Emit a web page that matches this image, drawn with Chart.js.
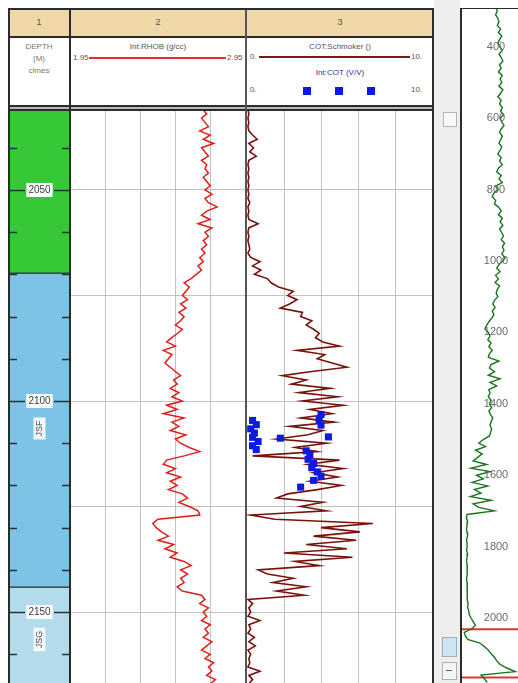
<!DOCTYPE html>
<html>
<head>
<meta charset="utf-8">
<script src="https://cdn.jsdelivr.net/npm/chart.js@4.4.1/dist/chart.umd.min.js"></script>
<style>
  body { margin:0; width:518px; height:683px; overflow:hidden; background:#fff; position:relative;
         font-family:"Liberation Sans", Arial, sans-serif; }
  .ln { position:absolute; background:#2b2b2b; }
  .box { position:absolute; }
  .txt { position:absolute; font-size:8px; line-height:10px; color:#555; white-space:nowrap; }
  .c { transform:translateX(-50%); }
  .sq { position:absolute; width:8px; height:8px; background:#0b1be0; top:87px; }
  canvas { position:absolute; }
</style>
</head>
<body>

<!-- scroll column + overview panel frame -->
<div class="box" style="left:434px;top:0;width:26px;height:683px;background:#eeeeee"></div>
<div class="box" style="left:443px;top:112px;width:12px;height:13px;background:#f8f8f8;border:1px solid #b4b4b4"></div>
<div class="box" style="left:442px;top:637px;width:13px;height:18px;background:#cfe4f2;border:1px solid #8fb0c8"></div>
<div class="box" style="left:442px;top:662px;width:13px;height:16px;background:#f5f5f5;border:1px solid #b0b0b0"></div>
<div class="box" style="left:446px;top:670px;width:6px;height:1px;background:#666"></div>
<div class="ln" style="left:460px;top:8px;width:2px;height:675px"></div>
<div class="ln" style="left:460px;top:8px;width:58px;height:1px"></div>

<!-- main log frame -->
<div class="box" style="left:10px;top:10px;width:422px;height:26px;background:#f0d7a8"></div>
<div class="ln" style="left:8px;top:8px;width:426px;height:2px"></div>
<div class="ln" style="left:8px;top:8px;width:2px;height:675px"></div>
<div class="ln" style="left:432px;top:8px;width:2px;height:675px"></div>
<div class="ln" style="left:10px;top:36px;width:422px;height:2px"></div>
<div class="ln" style="left:10px;top:105px;width:422px;height:2px"></div>
<div class="box" style="left:10px;top:107px;width:422px;height:2px;background:#b9b9b9"></div>
<div class="ln" style="left:10px;top:109px;width:422px;height:2px"></div>
<div class="ln" style="left:69px;top:10px;width:2px;height:673px"></div>
<div class="ln" style="left:245px;top:10px;width:2px;height:673px;background:#555"></div>

<!-- track numbers -->
<div class="txt c" style="left:39px;top:17px;font-size:9px">1</div>
<div class="txt c" style="left:158px;top:17px;font-size:9px">2</div>
<div class="txt c" style="left:340px;top:17px;font-size:9px">3</div>

<!-- curve headers -->
<div class="txt c" style="left:39px;top:42px;color:#777">DEPTH</div>
<div class="txt c" style="left:39px;top:54px;color:#777">(M)</div>
<div class="txt c" style="left:39px;top:66px;color:#777">cimes</div>

<div class="txt c" style="left:158px;top:42px">Int:RHOB (g/cc)</div>
<div class="txt" style="left:73px;top:53px">1.95</div>
<div class="box" style="left:89px;top:57px;width:137px;height:2px;background:#e0302c"></div>
<div class="txt" style="left:227px;top:53px">2.95</div>

<div class="txt c" style="left:340px;top:42px">COT:Schmoker ()</div>
<div class="txt" style="left:250px;top:52px">0.</div>
<div class="box" style="left:259px;top:56px;width:151px;height:2px;background:#7a1a10"></div>
<div class="txt" style="left:411px;top:52px">10.</div>
<div class="txt c" style="left:340px;top:68px;color:#33339a">Int:COT (V/V)</div>
<div class="txt" style="left:250px;top:85px">0.</div>
<div class="sq" style="left:303px"></div>
<div class="sq" style="left:335px"></div>
<div class="sq" style="left:367px"></div>
<div class="txt" style="left:411px;top:85px">10.</div>

<canvas id="t1" width="59" height="572" style="left:10px;top:111px"></canvas>
<canvas id="t2" width="174" height="572" style="left:71px;top:111px"></canvas>
<canvas id="t3" width="185" height="572" style="left:247px;top:111px"></canvas>
<canvas id="ov" width="56" height="674" style="left:462px;top:9px"></canvas>

<script>
// depth window of the main view (m)
const viewTop = 2031.3;
const viewBase = 2166.8;

// depth track ticks and labels
const depthTicks = [2040, 2050, 2060, 2070, 2080, 2090, 2100, 2110, 2120, 2130, 2140, 2150, 2160];
const depthLabels = [2050, 2100, 2150];
const depthGrid = [2050, 2075, 2100, 2125, 2150];

// zones in track 1
const zoneNames = ['', 'JSF', 'JSG'];
const zoneTop = [2000, 2069.7, 2144.1];
const zoneBase = [2069.7, 2144.1, 2200];
const zoneColors = ['#36c836', '#7dc3e6', '#b2dbec'];
const zoneLabelDepth = [null, 2106.5, 2156.5];

// Int:RHOB (g/cc), one sample per metre from 2031 m
const rhobStart = 2031;
const rhob = [
    2.71, 2.73, 2.70, 2.72, 2.74,  2.69, 2.75, 2.71, 2.77, 2.70,
    2.72, 2.74, 2.70, 2.73, 2.72,  2.74, 2.71, 2.73, 2.75, 2.72,
    2.76, 2.72, 2.74, 2.79, 2.73,  2.70, 2.75, 2.68, 2.76, 2.72,
    2.74, 2.71, 2.73, 2.70, 2.72,  2.69, 2.71, 2.68, 2.70, 2.67,
    2.64, 2.60, 2.63, 2.61, 2.59,  2.62, 2.58, 2.61, 2.57, 2.60,
    2.58, 2.55, 2.59, 2.56, 2.53,  2.50, 2.55, 2.48, 2.53, 2.51,
    2.49, 2.52, 2.55, 2.58, 2.54,  2.56, 2.52, 2.57, 2.53, 2.59,
    2.50, 2.56, 2.48, 2.60, 2.53,  2.57, 2.52, 2.61, 2.55, 2.58,
    2.63, 2.69, 2.60, 2.50, 2.48,  2.55, 2.50, 2.58, 2.52, 2.56,
    2.51, 2.59, 2.62, 2.57, 2.63,  2.68, 2.69, 2.45, 2.42, 2.44,
    2.47, 2.51, 2.45, 2.54, 2.49,  2.56, 2.52, 2.60, 2.64, 2.58,
    2.62, 2.58, 2.60, 2.56, 2.59,  2.70, 2.72, 2.69, 2.74, 2.71,
    2.73, 2.70, 2.75, 2.72, 2.74,  2.71, 2.76, 2.73, 2.70, 2.75,
    2.72, 2.77, 2.74, 2.76, 2.73, 2.78, 2.75
];
const rhobGrid = [2.15, 2.35, 2.55, 2.75];

// COT:Schmoker, one sample per metre from 2031 m
const cotStart = 2031;
const cot = [
    0.05, 0.1, 0.05, 0.1, 0.05,  0.1, 0.3, 0.55, 0.1, 0.35,
    0.15, 0.5, 0.1, 0.05, 0.1,   0.05, 0.1, 0.05, 0.1, 0.05,
    0.1, 0.05, 0.15, 0.05, 0.1,  0.05, 0.1, 0.6, 0.1, 0.05,
    0.1, 0.05, 0.1, 0.15, 0.05,  0.2, 0.7, 0.3, 0.75, 0.4,
    1.1, 1.3, 1.7, 2.5, 2.2,     2.7, 2.3, 1.8, 3.0, 2.9,
    3.5, 3.2, 3.6, 3.9, 3.7,     4.1, 5.0, 2.7, 4.2, 3.8,
    4.6, 5.4, 3.5, 1.9, 3.2,     2.4, 4.5, 2.8, 4.9, 3.0,
    5.2, 3.4, 4.6, 2.9, 4.7,     2.3, 4.1, 3.3, 1.6, 4.3,
    2.6, 3.8, 0.3, 5.0, 3.3,     5.2, 3.6, 4.9, 3.4, 5.1,
    3.8, 2.2, 1.6, 4.1, 2.9,     4.3, 0.2, 1.5, 6.8, 4.0,
    6.1, 3.6, 5.9, 3.2, 5.4,     2.0, 5.7, 2.6, 3.9, 0.6,
    1.1, 2.5, 1.4, 3.2, 1.6,     3.1, 0.05, 0.3, 0.1, 0.2,
    0.05, 0.7, 0.1, 0.2, 0.05,   0.4, 0.1, 0.45, 0.05, 0.2,
    0.1, 0.15, 0.05, 0.7, 0.1, 0.3, 0.1
];
const cotGrid = [2, 4, 6, 8];

// Int:COT core points
const intCotDepth = [2103.2, 2104.4, 2105.7, 2104.6, 2105.6, 2106.6, 2107.6, 2108.6, 2109.6, 2110.6, 2111.5,
                     2108.8, 2108.5, 2111.8, 2112.8, 2113.8, 2114.8, 2115.8, 2116.8, 2117.8, 2118.8, 2120.4];
const intCot = [4.0, 3.9, 4.0, 0.3, 0.5, 0.2, 0.4, 0.3, 0.6, 0.3, 0.5,
                1.8, 4.4, 3.2, 3.4, 3.3, 3.6, 3.5, 3.8, 4.0, 3.6, 2.9];

// overview curve (right panel), one sample per 10 m from 290 m
const ovTop = 294;
const ovBase = 2182;
const grStart = 290;
const gr = [
    61, 63, 60, 64,
    66, 63, 69, 65, 71, 67, 64,
    68, 72, 66, 70, 73, 67,
    70, 65, 72, 68, 71, 66, 73, 69, 64, 70, 67, 72,
    69, 74, 68, 71, 75, 70, 67, 72, 69,
    66, 71, 68, 64, 70, 67, 72, 65,
    62, 70, 66, 72, 60,
    64, 57, 54, 60, 58, 66,
    70, 65, 72, 68, 73, 67, 71,
    74, 70, 76, 72, 75, 71, 77, 73,
    66, 62, 68, 60, 65, 59, 67, 63, 61, 64,
    58, 55, 59, 54, 57, 53,
    48, 44, 41, 47,
    50, 46, 52, 48, 54, 49,
    47, 66, 52, 49, 58, 47, 68, 50, 62, 48,
    50, 47, 52, 49, 53, 48, 51,
    55, 52, 50, 53, 51, 49, 38,
    30, 42, 24, 36, 28,
    20, 44, 16, 50, 26, 38,
    18, 46, 22, 34, 15, 52, 20, 30, 58,
    9, 8, 10, 9, 8, 9, 10, 8, 9, 9, 8, 10, 9, 8, 9, 9, 10, 9, 8, 9, 9, 10, 9, 9, 10, 11, 10, 12, 13,
    16, 20, 24, 18,
    4, 6, 10,
    32, 40, 47,
    52, 58, 62,
    68, 80, 95,
    34, 40, 45
];
const ovTicks = [400, 600, 800, 1000, 1200, 1400, 1600, 1800, 2000];

Chart.defaults.font.family = '"Liberation Sans", Arial, sans-serif';

function series(start, step, values) {
    return values.map((v, i) => ({ x: v, y: start + i * step }));
}

function depthAxis(min, max, gridValues) {
    return {
        type: 'linear', reverse: true, min: min, max: max,
        ticks: { display: false },
        border: { display: false },
        grid: { display: gridValues.length > 0, color: '#c2c2c2', lineWidth: 1, drawTicks: false },
        afterBuildTicks: s => { s.ticks = gridValues.map(v => ({ value: v })); }
    };
}

function valueAxis(min, max, gridValues) {
    return {
        type: 'linear', min: min, max: max,
        ticks: { display: false },
        border: { display: false },
        grid: { display: gridValues.length > 0, color: '#c2c2c2', lineWidth: 1, drawTicks: false },
        afterBuildTicks: s => { s.ticks = gridValues.map(v => ({ value: v })); }
    };
}

const base = {
    responsive: false,
    animation: false,
    events: [],
    layout: { padding: 0, autoPadding: false },
    plugins: { legend: { display: false }, tooltip: { enabled: false } }
};

// ticks, depth labels and zone names in track 1
const depthMarks = {
    id: 'depthMarks',
    afterDatasetsDraw(chart) {
        const { ctx, chartArea: a, scales: { y } } = chart;
        const cx = (a.left + a.right) / 2;
        ctx.save();
        ctx.strokeStyle = '#26323a';
        ctx.lineWidth = 1.5;
        depthTicks.forEach(d => {
            const py = Math.round(y.getPixelForValue(d)) + 0.5;
            const len = depthLabels.includes(d) ? 15 : 7;
            ctx.beginPath();
            ctx.moveTo(a.left, py); ctx.lineTo(a.left + len, py);
            ctx.moveTo(a.right - len, py); ctx.lineTo(a.right, py);
            ctx.stroke();
        });
        ctx.font = '10px "Liberation Sans", Arial';
        ctx.textAlign = 'center';
        ctx.textBaseline = 'middle';
        depthLabels.forEach(d => {
            const py = y.getPixelForValue(d);
            const w = ctx.measureText(String(d)).width + 4;
            ctx.fillStyle = '#fff';
            ctx.fillRect(cx - w / 2, py - 7, w, 14);
            ctx.fillStyle = '#3a3a3a';
            ctx.fillText(String(d), cx, py + 0.5);
        });
        ctx.font = '9px "Liberation Sans", Arial';
        zoneNames.forEach((name, i) => {
            if (!name) return;
            const py = y.getPixelForValue(zoneLabelDepth[i]);
            const w = ctx.measureText(name).width + 6;
            ctx.save();
            ctx.translate(cx, py);
            ctx.rotate(-Math.PI / 2);
            ctx.fillStyle = '#f4f8fa';
            ctx.fillRect(-w / 2, -6, w, 12);
            ctx.fillStyle = '#4a4a4a';
            ctx.fillText(name, 0, 0.5);
            ctx.restore();
        });
        ctx.restore();
    }
};

// depth labels drawn inside the overview panel
const overviewLabels = {
    id: 'overviewLabels',
    afterDatasetsDraw(chart) {
        const { ctx, chartArea: a, scales: { y } } = chart;
        ctx.save();
        ctx.font = '11px "Liberation Sans", Arial';
        ctx.fillStyle = '#6a6a6a';
        ctx.textAlign = 'center';
        ctx.textBaseline = 'middle';
        ovTicks.forEach(d => ctx.fillText(String(d), a.left + 34, y.getPixelForValue(d)));
        ctx.restore();
    }
};

window.onload = function() {
    // Track 1: zones
    new Chart(document.getElementById('t1'), {
        type: 'bar',
        data: {
            labels: ['zone'],
            datasets: zoneTop.map((t, i) => ({
                data: [[t, zoneBase[i]]],
                backgroundColor: zoneColors[i],
                borderColor: '#26323a',
                borderWidth: { top: 1, bottom: 1, left: 0, right: 0 },
                borderSkipped: false,
                grouped: false,
                barPercentage: 1,
                categoryPercentage: 1
            }))
        },
        options: {
            ...base,
            scales: { x: { display: false }, y: depthAxis(viewTop, viewBase, []) }
        },
        plugins: [depthMarks]
    });

    // Track 2: RHOB
    new Chart(document.getElementById('t2'), {
        type: 'scatter',
        data: {
            datasets: [{
                data: series(rhobStart, 1, rhob),
                showLine: true,
                borderColor: '#e01f1b',
                borderWidth: 1.5,
                pointRadius: 0
            }]
        },
        options: {
            ...base,
            scales: { x: valueAxis(1.95, 2.95, rhobGrid), y: depthAxis(viewTop, viewBase, depthGrid) }
        }
    });

    // Track 3: COT Schmoker + Int COT
    new Chart(document.getElementById('t3'), {
        type: 'scatter',
        data: {
            datasets: [
                {
                    data: intCot.map((v, i) => ({ x: v, y: intCotDepth[i] })),
                    pointStyle: 'rect',
                    pointRadius: 5,
                    backgroundColor: '#0b1be0',
                    borderWidth: 0,
                    order: 0
                },
                {
                    data: series(cotStart, 1, cot),
                    showLine: true,
                    borderColor: '#7a120c',
                    borderWidth: 1.6,
                    pointRadius: 0,
                    order: 1
                }
            ]
        },
        options: {
            ...base,
            scales: { x: valueAxis(0, 10, cotGrid), y: depthAxis(viewTop, viewBase, depthGrid) }
        }
    });

    // Overview panel
    new Chart(document.getElementById('ov'), {
        type: 'scatter',
        data: {
            datasets: [
                {
                    data: series(grStart, 10, gr),
                    showLine: true,
                    borderColor: '#1a7420',
                    borderWidth: 1.4,
                    pointRadius: 0
                },
                {
                    data: [{ x: 0, y: viewTop }, { x: 100, y: viewTop }],
                    showLine: true,
                    borderColor: '#e2353a',
                    borderWidth: 2,
                    pointRadius: 0
                },
                {
                    data: [{ x: 0, y: viewBase }, { x: 100, y: viewBase }],
                    showLine: true,
                    borderColor: '#e2353a',
                    borderWidth: 2,
                    pointRadius: 0
                }
            ]
        },
        options: {
            ...base,
            scales: { x: valueAxis(0, 100, []), y: depthAxis(ovTop, ovBase, []) }
        },
        plugins: [overviewLabels]
    });
};
</script>
</body>
</html>
